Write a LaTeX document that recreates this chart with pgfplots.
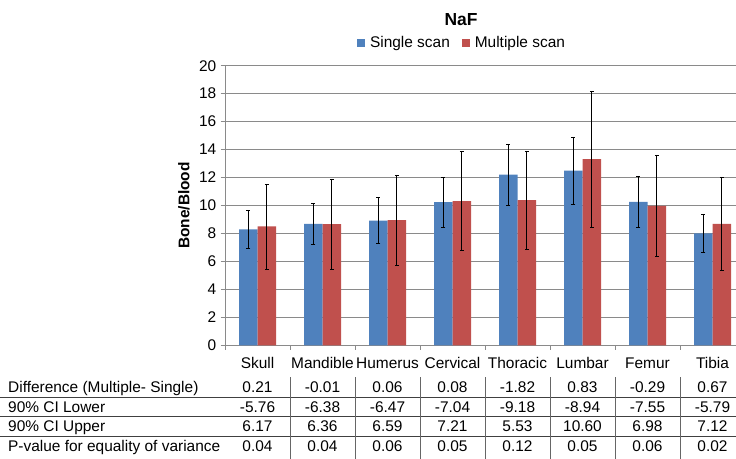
\documentclass[border=0pt]{standalone}
\usepackage{pgfplots}
\pgfplotsset{compat=1.18}
\usepackage{fontspec}
\setmainfont{Liberation Sans}
\definecolor{sblue}{HTML}{4F81BD}
\definecolor{mred}{HTML}{C0504D}
\definecolor{gridgray}{HTML}{8A8A8A}
\begin{document}
\fontsize{15.5}{18}\selectfont
\begin{tikzpicture}[x=1bp,y=1bp]
\useasboundingbox (0,0) rectangle (736,459);
\begin{axis}[
  at={(225bp,113.7bp)}, anchor=south west,
  scale only axis, width=511bp, height=279.6bp,
  xmin=-0.5, xmax=7.3615, ymin=0, ymax=20,
  ybar=0pt, bar width=18.5bp,
  axis x line*=bottom, axis y line*=left,
  axis line style={gridgray, line width=0.8bp},
  ymajorgrids, grid style={gridgray, line width=0.8bp},
  ytick={0,2,...,20},
  xtick={-0.5,0.5,...,6.5}, xticklabels={},
  extra x ticks={0,1,2,3,4,5,6,7},
  extra x tick labels={Skull,Mandible,Humerus,Cervical,Thoracic,Lumbar,Femur,Tibia},
  extra x tick style={major tick length=0pt, grid=none,
     xticklabel style={anchor=base, inner sep=0pt, yshift=-23.5bp}},
  tick align=outside, major tick length=4.5bp,
  tick style={gridgray, line width=0.8bp},
  /pgf/number format/assume math mode=true,
  yticklabel style={anchor=east, inner sep=0pt, xshift=-4bp},
  ylabel={Bone/Blood},
  ylabel style={font=\bfseries, at={(axis description cs:-0.0803,0.5)}, anchor=center},
  legend columns=2,
  legend style={draw=none, fill=none, at={(axis description cs:0.4638,1.081)}, anchor=center,
     /tikz/every odd column/.append style={column sep=3bp},
     /tikz/every even column/.append style={column sep=10bp}},
  legend image code/.code={\fill[#1] (0bp,-4bp) rectangle (8bp,4bp);},
  clip=false,
]
\addplot[fill=sblue, draw=none,
  error bars/.cd, y dir=both, y explicit,
  error bar style={draw=black, line width=0.6bp},
  error mark options={draw=black, rotate=90, mark size=2bp, line width=0.6bp}]
  coordinates {
  (0,8.29) +- (0,1.37)
  (1,8.69) +- (0,1.47)
  (2,8.91) +- (0,1.65)
  (3,10.24) +- (0,1.78)
  (4,12.21) +- (0,2.17)
  (5,12.50) +- (0,2.40)
  (6,10.26) +- (0,1.85)
  (7,8.00) +- (0,1.36)
  };
\addlegendentry{Single scan}
\addplot[fill=mred, draw=none,
  error bars/.cd, y dir=both, y explicit,
  error bar style={draw=black, line width=0.6bp},
  error mark options={draw=black, rotate=90, mark size=2bp, line width=0.6bp}]
  coordinates {
  (0,8.50) +- (0,3.03)
  (1,8.67) +- (0,3.23)
  (2,8.95) +- (0,3.24)
  (3,10.31) +- (0,3.55)
  (4,10.38) +- (0,3.50)
  (5,13.31) +- (0,4.88)
  (6,9.98) +- (0,3.64)
  (7,8.69) +- (0,3.35)
  };
\addlegendentry{Multiple scan}
\end{axis}
\node[font=\bfseries\fontsize{17.5}{20}\selectfont] at (461,439) {NaF};
% table
\node[anchor=base west, inner sep=0pt] at (8,66) {Difference (Multiple- Single)};
\node[anchor=base west, inner sep=0pt] at (8,46.5) {90\% CI Lower};
\node[anchor=base west, inner sep=0pt] at (8,27) {90\% CI Upper};
\node[anchor=base west, inner sep=0pt] at (8,7.5) {P-value for equality of variance};
\foreach \v [count=\i from 0] in {0.21,-0.01,0.06,0.08,-1.82,0.83,-0.29,0.67}
  \node[anchor=base, inner sep=0pt] at (257.5+65*\i,66) {\v};
\foreach \v [count=\i from 0] in {-5.76,-6.38,-6.47,-7.04,-9.18,-8.94,-7.55,-5.79}
  \node[anchor=base, inner sep=0pt] at (257.5+65*\i,46.5) {\v};
\foreach \v [count=\i from 0] in {6.17,6.36,6.59,7.21,5.53,10.60,6.98,7.12}
  \node[anchor=base, inner sep=0pt] at (257.5+65*\i,27) {\v};
\foreach \v [count=\i from 0] in {0.04,0.04,0.06,0.05,0.12,0.05,0.06,0.02}
  \node[anchor=base, inner sep=0pt] at (257.5+65*\i,7.5) {\v};
\foreach \yy in {61.7,42.5,23}
  \draw[black!75, line width=0.8bp] (0,\yy) -- (736,\yy);
\foreach \k in {0,...,6}
  \draw[black!60, line width=0.8bp] (290+65*\k,0) -- (290+65*\k,82);
\end{tikzpicture}
\end{document}
